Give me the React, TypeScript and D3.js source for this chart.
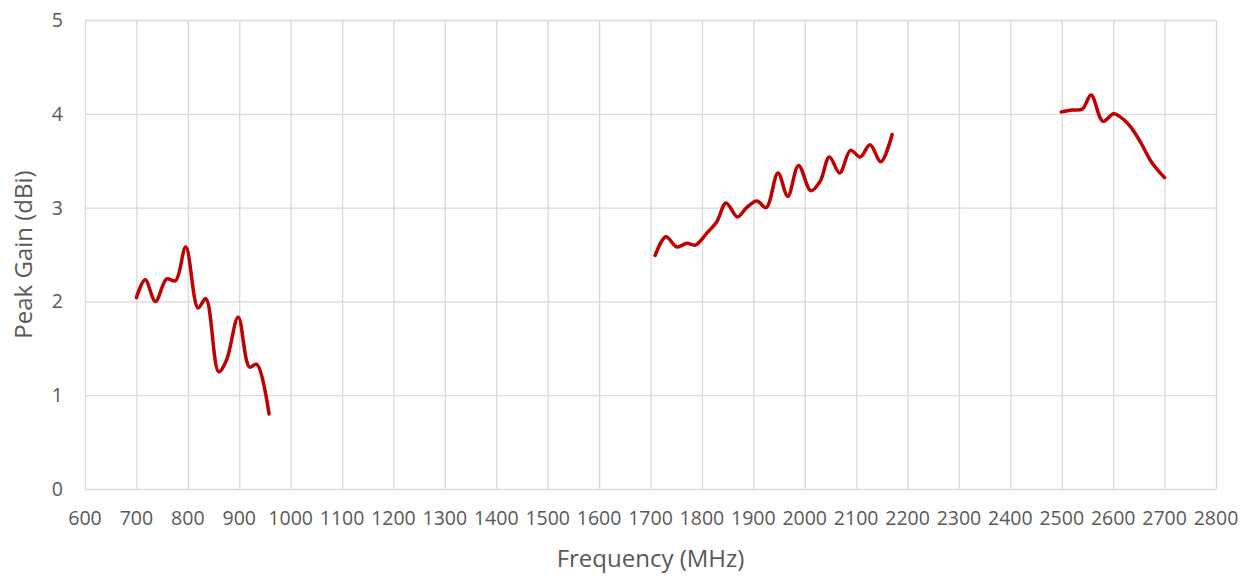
import React, { useEffect, useRef } from "react";
import * as d3 from "d3";

// Peak gain readings, three bands
const lowBandFreq = [700, 717, 737, 759, 776, 796, 820, 835, 860, 875, 898, 920, 934, 958];
const lowBandGain = [2.04, 2.23, 2.0, 2.24, 2.22, 2.58, 1.93, 2.03, 1.25, 1.37, 1.83, 1.3, 1.33, 0.8];

const midBandFreq = [
  1709, 1730, 1751, 1771, 1787, 1810, 1829, 1847, 1869, 1887, 1907, 1925, 1948, 1967, 1988, 2012, 2030,
  2048, 2068, 2089, 2108, 2127, 2148, 2170,
];
const midBandGain = [
  2.49, 2.69, 2.58, 2.62, 2.6, 2.73, 2.85, 3.05, 2.9, 3.0, 3.07, 3.0, 3.37, 3.12, 3.45, 3.18, 3.28, 3.54,
  3.37, 3.61, 3.54, 3.67, 3.49, 3.78,
];

const highBandFreq = [2499, 2520, 2540, 2557, 2580, 2601, 2620, 2634, 2654, 2674, 2700];
const highBandGain = [4.02, 4.04, 4.05, 4.2, 3.92, 4.0, 3.94, 3.86, 3.69, 3.49, 3.32];

const xTicks = d3.range(600, 2801, 100);
const yTicks = [0, 1, 2, 3, 4, 5];

const width = 1249;
const height = 576;
const margin = { top: 20, right: 33, bottom: 87, left: 85 };
const font = "Open Sans, Noto Sans, sans-serif";

export default function App() {
  const ref = useRef<SVGSVGElement>(null);

  useEffect(() => {
    const svg = d3.select(ref.current);
    svg.selectAll("*").remove();

    const x = d3.scaleLinear().domain([600, 2800]).range([margin.left, width - margin.right]);
    const y = d3.scaleLinear().domain([0, 5]).range([height - margin.bottom, margin.top]);

    // grid
    svg
      .append("g")
      .selectAll("line")
      .data(xTicks)
      .enter()
      .append("line")
      .attr("x1", (d) => x(d) + 0.5)
      .attr("x2", (d) => x(d) + 0.5)
      .attr("y1", y(5))
      .attr("y2", y(0))
      .attr("stroke", "#d9d9d9")
      .attr("stroke-width", 1.3);

    svg
      .append("g")
      .selectAll("line")
      .data(yTicks)
      .enter()
      .append("line")
      .attr("x1", x(600))
      .attr("x2", x(2800))
      .attr("y1", (d) => y(d) + 0.5)
      .attr("y2", (d) => y(d) + 0.5)
      .attr("stroke", "#d9d9d9")
      .attr("stroke-width", 1.3);

    // tick labels
    svg
      .append("g")
      .selectAll("text")
      .data(xTicks)
      .enter()
      .append("text")
      .attr("x", (d) => x(d))
      .attr("y", y(0) + 36)
      .attr("text-anchor", "middle")
      .style("font", `19.5px ${font}`)
      .style("fill", "#595959")
      .text((d) => d);

    svg
      .append("g")
      .selectAll("text")
      .data(yTicks)
      .enter()
      .append("text")
      .attr("x", margin.left - 22)
      .attr("y", (d) => y(d) + 7)
      .attr("text-anchor", "end")
      .style("font", `19.5px ${font}`)
      .style("fill", "#595959")
      .text((d) => d);

    // axis titles
    svg
      .append("text")
      .attr("x", (x(600) + x(2800)) / 2)
      .attr("y", height - 9)
      .attr("text-anchor", "middle")
      .style("font", `24px ${font}`)
      .style("fill", "#595959")
      .text("Frequency (MHz)");

    svg
      .append("text")
      .attr("transform", `translate(32,${(y(0) + y(5)) / 2}) rotate(-90)`)
      .attr("text-anchor", "middle")
      .style("font", `24px ${font}`)
      .style("fill", "#595959")
      .text("Peak Gain (dBi)");

    // curves
    const line = d3
      .line<[number, number]>()
      .x((d) => x(d[0]))
      .y((d) => y(d[1]))
      .curve(d3.curveCatmullRom.alpha(0.5));

    const bands = [
      d3.zip(lowBandFreq, lowBandGain),
      d3.zip(midBandFreq, midBandGain),
      d3.zip(highBandFreq, highBandGain),
    ] as [number, number][][];

    svg
      .append("g")
      .selectAll("path")
      .data(bands)
      .enter()
      .append("path")
      .attr("d", (d) => line(d))
      .attr("fill", "none")
      .attr("stroke", "#c00000")
      .attr("stroke-width", 3.5)
      .attr("stroke-linecap", "round")
      .attr("stroke-linejoin", "round");
  }, []);

  return (
    <svg
      ref={ref}
      width={width}
      height={height}
      style={{ position: "absolute", left: 0, top: 0, background: "#fff" }}
    />
  );
}
